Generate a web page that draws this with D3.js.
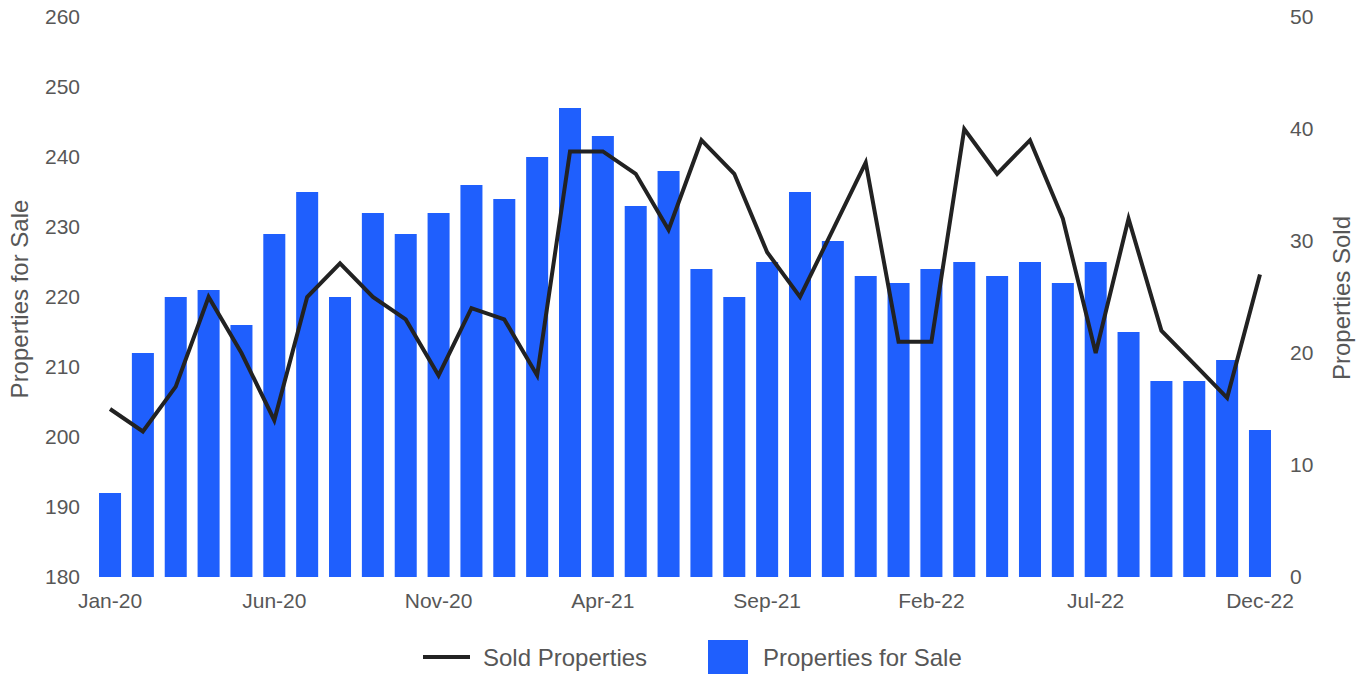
<!DOCTYPE html>
<html>
<head>
<meta charset="utf-8">
<script src="https://cdn.jsdelivr.net/npm/d3@7"></script>
<style>
	body { margin: 0; background: #fff; }
	text { font-family: "Liberation Sans", Arial, sans-serif; fill: #575757; }
</style>
</head>
<body>
<svg id="chart"></svg>
<script>
const months = ["Jan-20","Feb-20","Mar-20","Apr-20","May-20","Jun-20","Jul-20","Aug-20","Sep-20","Oct-20","Nov-20","Dec-20",
	"Jan-21","Feb-21","Mar-21","Apr-21","May-21","Jun-21","Jul-21","Aug-21","Sep-21","Oct-21","Nov-21","Dec-21",
	"Jan-22","Feb-22","Mar-22","Apr-22","May-22","Jun-22","Jul-22","Aug-22","Sep-22","Oct-22","Nov-22","Dec-22"];
const forSale = [192,212,220,221,216,229,235,220,232,229,232,236,
	234,240,247,243,233,238,224,220,225,235,228,223,
	222,224,225,223,225,222,225,215,208,208,211,201];
const sold = [15,13,17,25,20,14,25,28,25,23,18,24,
	23,18,38,38,36,31,39,36,29,25,31,37,
	21,21,40,36,39,32,20,32,22,19,16,27];
const xTicks = ["Jan-20","Jun-20","Nov-20","Apr-21","Sep-21","Feb-22","Jul-22","Dec-22"];
const leftTicks = [180,190,200,210,220,230,240,250,260];
const rightTicks = [0,10,20,30,40,50];

const width = 1364, height = 674;
const svg = d3.select("#chart")
		.attr("width", width)
		.attr("height", height);

const x = d3.scaleBand()
		.domain(months)
		.range([93.6, 1276.4])
		.paddingInner(0.33)
		.paddingOuter(0.165);
const yLeft = d3.scaleLinear().domain([180, 260]).range([577, 17]);
const yRight = d3.scaleLinear().domain([0, 50]).range([577, 17]);

// bars
svg.append("g")
	.selectAll("rect")
	.data(forSale)
	.enter()
	.append("rect")
	.attr("x", function(d, i) { return x(months[i]) })
	.attr("y", function(d) { return yLeft(d) })
	.attr("width", x.bandwidth())
	.attr("height", function(d) { return yLeft(180) - yLeft(d) })
	.attr("fill", "#1f5ffd");

// sold line
const line = d3.line()
		.x(function(d, i) { return x(months[i]) + x.bandwidth() / 2 })
		.y(function(d) { return yRight(d) });
svg.append("path")
	.datum(sold)
	.attr("d", line)
	.attr("fill", "none")
	.attr("stroke", "#222")
	.attr("stroke-width", 4)
	.attr("stroke-linejoin", "miter");

// axes
const leftAxis = svg.append("g")
		.attr("transform", "translate(84,0)")
		.call(d3.axisLeft(yLeft).tickValues(leftTicks).tickSize(0).tickPadding(4));
const rightAxis = svg.append("g")
		.attr("transform", "translate(1286,0)")
		.call(d3.axisRight(yRight).tickValues(rightTicks).tickSize(0).tickPadding(4));
const bottomAxis = svg.append("g")
		.attr("transform", "translate(0,589)")
		.call(d3.axisBottom(x).tickValues(xTicks).tickSize(0).tickPadding(4));

[leftAxis, rightAxis, bottomAxis].forEach(function(a) {
	a.select(".domain").remove();
	a.selectAll("text")
		.style("font-size", "21px")
		.attr("fill", "#575757")
		.style("font-family", "'Liberation Sans', Arial, sans-serif");
});

// axis titles
svg.append("text")
	.attr("transform", "translate(28,299) rotate(-90)")
	.attr("text-anchor", "middle")
	.style("font-size", "24px")
	.text("Properties for Sale");
svg.append("text")
	.attr("transform", "translate(1350,298) rotate(-90)")
	.attr("text-anchor", "middle")
	.style("font-size", "24px")
	.text("Properties Sold");

// legend
const legend = svg.append("g");
legend.append("line")
	.attr("x1", 423).attr("x2", 470)
	.attr("y1", 657).attr("y2", 657)
	.attr("stroke", "#222")
	.attr("stroke-width", 4);
legend.append("text")
	.attr("x", 483).attr("y", 666)
	.style("font-size", "24px")
	.text("Sold Properties");
legend.append("rect")
	.attr("x", 708).attr("y", 640)
	.attr("width", 40).attr("height", 40)
	.attr("fill", "#1f5ffd");
legend.append("text")
	.attr("x", 763).attr("y", 666)
	.style("font-size", "24px")
	.text("Properties for Sale");
</script>
</body>
</html>
